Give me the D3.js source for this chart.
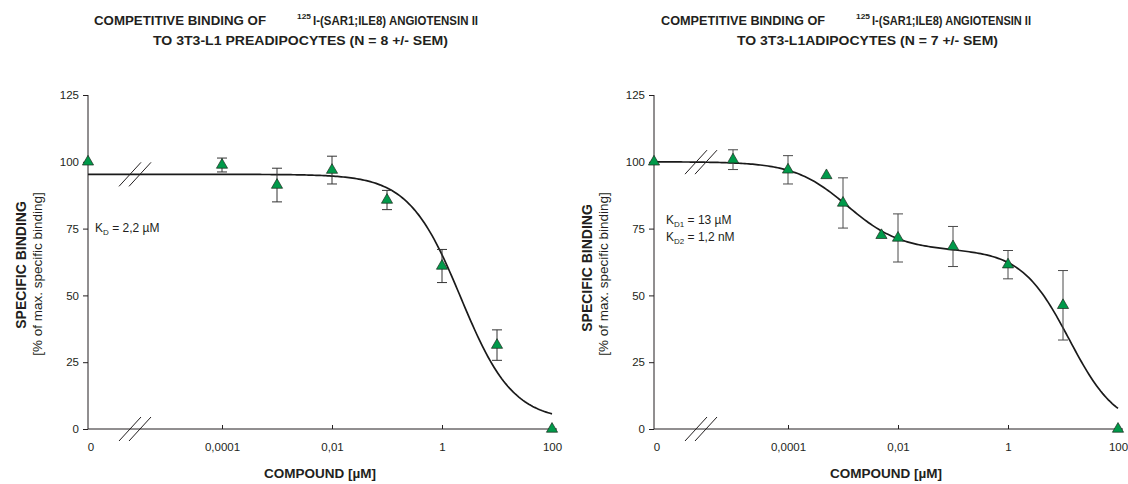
<!DOCTYPE html>
<html><head><meta charset="utf-8">
<script src="https://cdn.jsdelivr.net/npm/d3@7"></script>
<style>
body{margin:0;background:#fff}
svg{display:block}
text{font-family:"Liberation Sans",Arial,Helvetica,sans-serif;fill:#231f20}
</style>
</head><body>
<svg id="chart" width="1128" height="484"></svg>
<script>
// ---- 3T3-L1 preadipocytes (N = 8) ----
const preConc    = [0, 1e-4, 1e-3, 1e-2, 1e-1, 1, 10, 100];
const preBinding = [100, 98.8, 91.3, 96.9, 85.7, 61.0, 31.4, 0];
const preSem     = [0, 2.6, 6.3, 5.2, 3.6, 6.2, 5.7, 0];
// one-site fit, K_D = 2,2 µM
const preFit = {top: 95.3, bottom: 3, kd: 2.2, hill: 0.92};

// ---- 3T3-L1 adipocytes (N = 7) ----
const adiConc    = [0, 1e-5, 1e-4, 5e-4, 1e-3, 5e-3, 1e-2, 1e-1, 1, 10, 100];
const adiBinding = [100, 100.8, 97, 94.9, 84.6, 72.5, 71.5, 68.3, 61.5, 46.3, 0];
const adiSem     = [0, 3.7, 5.3, 0, 9.4, 0, 9, 7.5, 5.3, 13, 0];
// two-site fit, K_D1 = 13 µM (low affinity), K_D2 = 1,2 nM (high affinity)
const adiFit = {top: 100, bottom: 0, frac: 0.33, kd2: 0.0012, hill2: 0.9, kd1: 13, hill1: 1};

// axes
const yTickValues = [0, 25, 50, 75, 100, 125];
const xTickValues = [1e-4, 1e-2, 1, 100];
const xTickLabels = ["0,0001", "0,01", "1", "100"];
const zeroLabel = "0";

const oneSite = p => x => p.bottom + (p.top - p.bottom) / (1 + Math.pow(x / p.kd, p.hill));
const twoSite = p => x => p.bottom + (p.top - p.bottom) *
  (p.frac / (1 + Math.pow(x / p.kd2, p.hill2)) + (1 - p.frac) / (1 + Math.pow(x / p.kd1, p.hill1)));

const svg = d3.select("#chart");
const INK = "#231f20";

function drawPanel(cfg) {
  const g = svg.append("g");
  const x = d3.scaleLog().domain([1e-4, 100]).range([cfg.xLo, cfg.xHi]);
  const y = d3.scaleLinear().domain([0, 125]).range([429, 95]);
  const px = c => c === 0 ? cfg.x0 : x(c);

  // y axis
  const ya = g.append("g").attr("transform", `translate(${cfg.x0},0)`)
    .call(d3.axisLeft(y).tickValues(yTickValues).tickSize(5).tickPadding(4).tickFormat(d3.format("d")));
  ya.select(".domain").attr("stroke", INK).attr("d", `M0,${y(125)}V${y(0)}`);
  ya.selectAll(".tick line").attr("stroke", INK);
  ya.selectAll(".tick text").attr("font-size", 11.5).attr("fill", INK)
    .attr("font-family", '"Liberation Sans",Arial,sans-serif');

  // x axis (ticks inward)
  const xa = g.append("g").attr("transform", `translate(0,${y(0)})`)
    .call(d3.axisBottom(x).tickValues(xTickValues).tickSize(-4).tickPadding(14)
      .tickFormat((d, i) => xTickLabels[i]));
  xa.select(".domain").attr("stroke", INK).attr("d", `M${cfg.x0},0H${cfg.xHi + 5}`);
  xa.selectAll(".tick line").attr("stroke", INK).attr("y2", d => d === 100 ? 0 : -4);
  xa.selectAll(".tick text").attr("font-size", 11.5).attr("fill", INK)
    .attr("font-family", '"Liberation Sans",Arial,sans-serif');
  g.append("text").attr("x", cfg.x0 + 3).attr("y", y(0) + 22)
    .attr("text-anchor", "middle").attr("font-size", 11.5).text(zeroLabel);

  // fitted curve, continued across the axis break back to the "0" position
  const lo = Math.log10(x.invert(cfg.x0)), hi = 2;
  const curvePts = d3.range(0, 241).map(i => Math.pow(10, lo + (hi - lo) * i / 240));
  g.append("path")
    .attr("d", d3.line().x(c => x(c)).y(c => y(cfg.fit(c)))(curvePts))
    .attr("fill", "none").attr("stroke", "#1a1a1a").attr("stroke-width", 1.7);

  // axis-break marks on the x axis and on the curve
  const bx = cfg.x0 + 47;
  const breakYs = [y(0), y(cfg.fit(x.invert(bx)))];
  breakYs.forEach(by => {
    [-5, 5].forEach(off => {
      g.append("line")
        .attr("x1", bx + off - 11).attr("y1", by + 12)
        .attr("x2", bx + off + 11).attr("y2", by - 12)
        .attr("stroke", INK).attr("stroke-width", 1);
    });
  });

  // error bars
  const pts = cfg.conc.map((c, i) => ({c, v: cfg.binding[i], e: cfg.sem[i]}));
  const eb = g.append("g").attr("stroke", cfg.barColor).attr("stroke-width", 1);
  pts.filter(d => d.e > 0).forEach(d => {
    const cx = px(d.c), t = y(d.v + d.e), b = y(d.v - d.e);
    eb.append("line").attr("x1", cx).attr("x2", cx).attr("y1", t).attr("y2", b);
    eb.append("line").attr("x1", cx - 5).attr("x2", cx + 5).attr("y1", t).attr("y2", t);
    eb.append("line").attr("x1", cx - 5).attr("x2", cx + 5).attr("y1", b).attr("y2", b);
  });

  // data markers
  g.append("g").selectAll("path").data(pts).join("path")
    .attr("d", d3.symbol(d3.symbolTriangle, 54))
    .attr("transform", d => `translate(${px(d.c)},${y(d.v)})`)
    .attr("fill", "#009a4a").attr("stroke", "#1f2a20").attr("stroke-width", 0.7);

  // axis titles
  g.append("text").attr("transform", `translate(${cfg.x0 - 62},${cfg.ybCenter}) rotate(-90)`)
    .attr("text-anchor", "middle").attr("font-size", 14).attr("font-weight", "bold")
    .text("SPECIFIC BINDING");
  g.append("text").attr("transform", `translate(${cfg.x0 - 46},${cfg.yrCenter}) rotate(-90)`)
    .attr("text-anchor", "middle").attr("font-size", 13.5)
    .text("[% of max. specific binding]");
  g.append("text").attr("x", (cfg.x0 + cfg.xHi) / 2).attr("y", 478)
    .attr("text-anchor", "middle").attr("font-size", 13.5).attr("font-weight", "bold")
    .text("COMPOUND [µM]");

  // title
  const t = cfg.title;
  const tt = g.append("g").attr("font-weight", "bold");
  tt.append("text").attr("x", t.a[0]).attr("y", 25).attr("font-size", 12.5)
    .attr("textLength", t.a[1] - t.a[0]).attr("lengthAdjust", "spacingAndGlyphs")
    .text("COMPETITIVE BINDING OF");
  tt.append("text").attr("x", t.s[0]).attr("y", 19).attr("font-size", 8)
    .attr("textLength", t.s[1] - t.s[0]).attr("lengthAdjust", "spacingAndGlyphs")
    .text("125");
  tt.append("text").attr("x", t.b[0]).attr("y", 25).attr("font-size", 12.5)
    .attr("textLength", t.b[1] - t.b[0]).attr("lengthAdjust", "spacingAndGlyphs")
    .text("I-(SAR1;ILE8) ANGIOTENSIN II");
  tt.append("text").attr("x", t.c[0]).attr("y", 45).attr("font-size", 12.5)
    .attr("textLength", t.c[1] - t.c[0]).attr("lengthAdjust", "spacingAndGlyphs")
    .text(t.line2);

  // K_D annotation
  cfg.kd.forEach((k, i) => {
    const tx = g.append("text").attr("x", cfg.x0 + cfg.kdDx).attr("y", cfg.kdY + i * 17).attr("font-size", 12);
    tx.append("tspan").text("K");
    tx.append("tspan").attr("font-size", 8).attr("dy", 3).text(k.sub);
    tx.append("tspan").attr("dy", -3).text(" = " + k.value);
  });
}

drawPanel({
  x0: 88, xLo: 222, xHi: 552,
  conc: preConc, binding: preBinding, sem: preSem, fit: oneSite(preFit),
  barColor: "#333333",
  ybCenter: 265, yrCenter: 274,
  title: {a: [94, 266], s: [297, 311], b: [313, 478], c: [153, 448],
          line2: "TO 3T3-L1 PREADIPOCYTES (N = 8 +/- SEM)"},
  kd: [{sub: "D", value: "2,2 µM"}], kdY: 232, kdDx: 7
});

drawPanel({
  x0: 654, xLo: 788, xHi: 1118,
  conc: adiConc, binding: adiBinding, sem: adiSem, fit: twoSite(adiFit),
  barColor: "#4a4a4a",
  ybCenter: 268, yrCenter: 274,
  title: {a: [661, 825], s: [856, 870], b: [872, 1031], c: [737, 998],
          line2: "TO 3T3-L1ADIPOCYTES (N = 7 +/- SEM)"},
  kd: [{sub: "D1", value: "13 µM"}, {sub: "D2", value: "1,2 nM"}], kdY: 224, kdDx: 12
});
</script>
</body></html>
